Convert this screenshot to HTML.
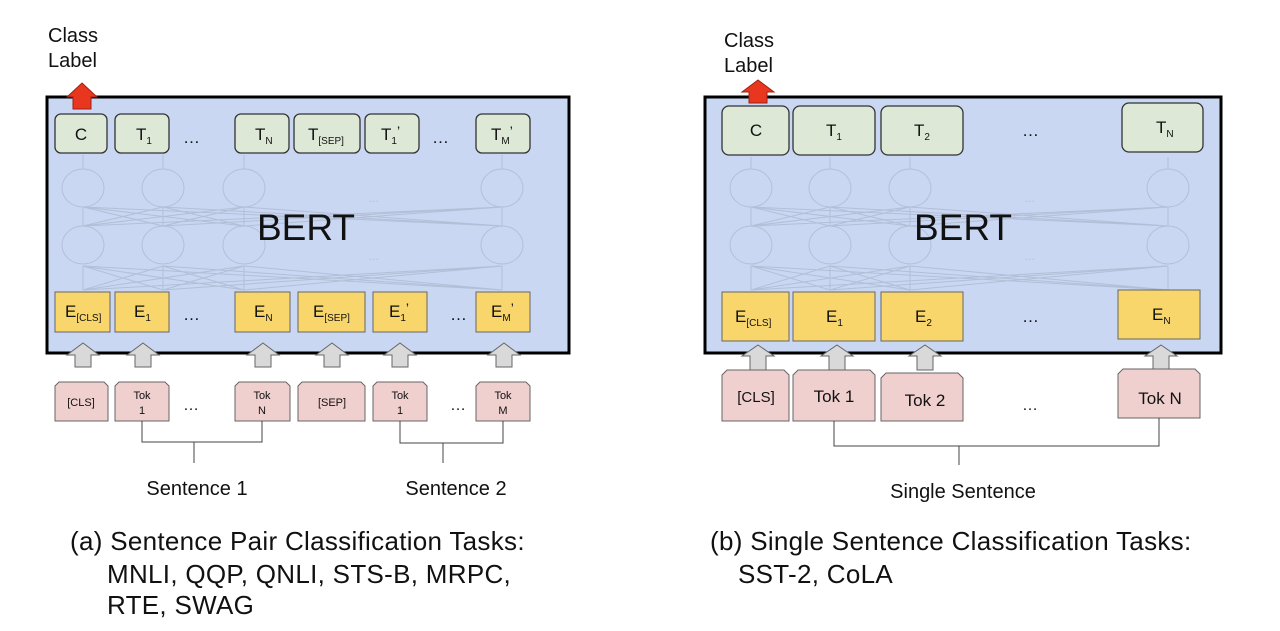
<!DOCTYPE html>
<html><head><meta charset="utf-8"><style>
html,body{margin:0;padding:0;background:#fff;}
svg{display:block;}
text{font-family:"Liberation Sans",Arial,sans-serif;fill:#111;}
</style></head><body>
<svg width="1280" height="631" viewBox="0 0 1280 631" xmlns="http://www.w3.org/2000/svg">
<!-- LEFT -->
<rect x="47" y="97" width="522" height="256" fill="#c9d7f3" stroke="#000" stroke-width="3"/>
<g stroke="#b3bfd6" stroke-width="1" fill="none">
<ellipse cx="83" cy="188" rx="21" ry="19"/><ellipse cx="163" cy="188" rx="21" ry="19"/><ellipse cx="244" cy="188" rx="21" ry="19"/><ellipse cx="502" cy="188" rx="21" ry="19"/>
<ellipse cx="83" cy="245" rx="21" ry="19"/><ellipse cx="163" cy="245" rx="21" ry="19"/><ellipse cx="244" cy="245" rx="21" ry="19"/><ellipse cx="502" cy="245" rx="21" ry="19"/>
<path d="M83 290L83 266M163 290L163 266M244 290L244 266M502 290L502 266M83 290L163 266M83 290L244 266M83 290L502 266M163 290L83 266M163 290L244 266M163 290L502 266M244 290L83 266M244 290L163 266M244 290L502 266M502 290L83 266M502 290L163 266M502 290L244 266"/>
<path d="M83 226L83 207M163 226L163 207M244 226L244 207M502 226L502 207M83 226L163 207M83 226L244 207M83 226L502 207M163 226L83 207M163 226L244 207M163 226L502 207M244 226L83 207M244 226L163 207M244 226L502 207M502 226L83 207M502 226L163 207M502 226L244 207"/>
<path d="M83 169L83 155M163 169L163 155M244 169L244 155M502 169L502 155"/>
</g>
<text x="369" y="202" font-size="12" style="fill:#b3bfd6">...</text>
<text x="369" y="260" font-size="12" style="fill:#b3bfd6">...</text>
<text x="306" y="240" font-size="37" text-anchor="middle">BERT</text>
<polygon points="82,83 97,97 91,97 91,109 73,109 73,97 67,97" fill="#e8361f" stroke="#a02010" stroke-width="1"/>
<text x="48" y="42" font-size="20">Class</text><text x="48" y="67" font-size="20">Label</text>
<g fill="#dde8d6" stroke="#333" stroke-width="1.3">
<rect x="55" y="114" width="52" height="39" rx="6"/><rect x="115" y="114" width="54" height="39" rx="6"/><rect x="235" y="114" width="54" height="39" rx="6"/><rect x="294" y="114" width="66" height="39" rx="6"/><rect x="365" y="114" width="54" height="39" rx="6"/><rect x="476" y="114" width="54" height="39" rx="6"/>
</g>
<g font-size="17">
<text x="81" y="140" text-anchor="middle">C</text>
<text x="136" y="140">T<tspan font-size="10" dy="4">1</tspan></text>
<text x="183" y="143">…</text>
<text x="255" y="140">T<tspan font-size="10" dy="4">N</tspan></text>
<text x="308" y="140">T<tspan font-size="10" dy="4">[SEP]</tspan></text>
<text x="381" y="140">T<tspan font-size="10" dy="4">1</tspan><tspan dy="-8" font-size="14">’</tspan></text>
<text x="432" y="143">…</text>
<text x="491" y="140">T<tspan font-size="10" dy="4">M</tspan><tspan dy="-8" font-size="14">’</tspan></text>
</g>
<g fill="#f8d66b" stroke="#666" stroke-width="1">
<rect x="55" y="292" width="55" height="40"/><rect x="115" y="292" width="54" height="40"/><rect x="235" y="292" width="55" height="40"/><rect x="298" y="292" width="67" height="40"/><rect x="373" y="292" width="54" height="40"/><rect x="476" y="292" width="54" height="40"/>
</g>
<g font-size="17">
<text x="65" y="317">E<tspan font-size="10" dy="4">[CLS]</tspan></text>
<text x="134" y="317">E<tspan font-size="10" dy="4">1</tspan></text>
<text x="183" y="320">…</text>
<text x="254" y="317">E<tspan font-size="10" dy="4">N</tspan></text>
<text x="313" y="317">E<tspan font-size="10" dy="4">[SEP]</tspan></text>
<text x="389" y="317">E<tspan font-size="10" dy="4">1</tspan><tspan dy="-8" font-size="14">’</tspan></text>
<text x="450" y="320">…</text>
<text x="491" y="317">E<tspan font-size="10" dy="4">M</tspan><tspan dy="-8" font-size="14">’</tspan></text>
</g>
<g fill="#d9d9d9" stroke="#666" stroke-width="1">
<polygon points="83,343 99,355 91,355 91,367 75,367 75,355 67,355"/>
<polygon points="143,343 159,355 151,355 151,367 135,367 135,355 127,355"/>
<polygon points="263,343 279,355 271,355 271,367 255,367 255,355 247,355"/>
<polygon points="332,343 348,355 340,355 340,367 324,367 324,355 316,355"/>
<polygon points="400,343 416,355 408,355 408,367 392,367 392,355 384,355"/>
<polygon points="504,343 520,355 512,355 512,367 496,367 496,355 488,355"/>
</g>
<g fill="#f0cfcf" stroke="#666" stroke-width="1">
<polygon points="59,382 104,382 108,386 108,421 55,421 55,386"/>
<polygon points="119,382 165,382 169,386 169,421 115,421 115,386"/>
<polygon points="239,382 286,382 290,386 290,421 235,421 235,386"/>
<polygon points="302,382 361,382 365,386 365,421 298,421 298,386"/>
<polygon points="377,382 423,382 427,386 427,421 373,421 373,386"/>
<polygon points="480,382 526,382 530,386 530,421 476,421 476,386"/>
</g>
<g font-size="11" text-anchor="middle">
<text x="81" y="406">[CLS]</text>
<text x="142" y="399">Tok</text><text x="142" y="414">1</text>
<text x="262" y="399">Tok</text><text x="262" y="414">N</text>
<text x="332" y="406">[SEP]</text>
<text x="400" y="399">Tok</text><text x="400" y="414">1</text>
<text x="503" y="399">Tok</text><text x="503" y="414">M</text>
</g>
<text x="183" y="410" font-size="16">…</text>
<text x="450" y="410" font-size="16">…</text>
<g stroke="#444" stroke-width="1" fill="none">
<path d="M142 421V442H262V421M194 442V463"/>
<path d="M400 421V443H503V421M443 443V463"/>
</g>
<text x="197" y="495" font-size="20" text-anchor="middle">Sentence 1</text>
<text x="456" y="495" font-size="20" text-anchor="middle">Sentence 2</text>
<g font-size="26" letter-spacing="0.3">
<text x="70" y="550">(a) Sentence Pair Classification Tasks:</text>
<text x="107" y="583">MNLI, QQP, QNLI, STS-B, MRPC,</text>
<text x="107" y="614">RTE, SWAG</text>
</g>

<!-- RIGHT -->
<rect x="705" y="97" width="516" height="256" fill="#c9d7f3" stroke="#000" stroke-width="3"/>
<g stroke="#b3bfd6" stroke-width="1" fill="none">
<ellipse cx="751" cy="188" rx="21" ry="19"/><ellipse cx="830" cy="188" rx="21" ry="19"/><ellipse cx="910" cy="188" rx="21" ry="19"/><ellipse cx="1168" cy="188" rx="21" ry="19"/>
<ellipse cx="751" cy="245" rx="21" ry="19"/><ellipse cx="830" cy="245" rx="21" ry="19"/><ellipse cx="910" cy="245" rx="21" ry="19"/><ellipse cx="1168" cy="245" rx="21" ry="19"/>
<path d="M751 290L751 266M830 290L830 266M910 290L910 266M1168 290L1168 266M751 290L830 266M751 290L910 266M751 290L1168 266M830 290L751 266M830 290L910 266M830 290L1168 266M910 290L751 266M910 290L830 266M910 290L1168 266M1168 290L751 266M1168 290L830 266M1168 290L910 266"/>
<path d="M751 226L751 207M830 226L830 207M910 226L910 207M1168 226L1168 207M751 226L830 207M751 226L910 207M751 226L1168 207M830 226L751 207M830 226L910 207M830 226L1168 207M910 226L751 207M910 226L830 207M910 226L1168 207M1168 226L751 207M1168 226L830 207M1168 226L910 207"/>
<path d="M751 169L751 157M830 169L830 157M910 169L910 157M1168 169L1168 157"/>
</g>
<text x="1025" y="202" font-size="12" style="fill:#b3bfd6">...</text>
<text x="1025" y="260" font-size="12" style="fill:#b3bfd6">...</text>
<text x="963" y="240" font-size="37" text-anchor="middle">BERT</text>
<polygon points="758,80 774,92 767,92 767,103 749,103 749,92 742,92" fill="#e8361f" stroke="#a02010" stroke-width="1"/>
<text x="724" y="47" font-size="20">Class</text><text x="724" y="72" font-size="20">Label</text>
<g fill="#dde8d6" stroke="#333" stroke-width="1.3">
<rect x="722" y="106" width="67" height="49" rx="7"/><rect x="793" y="106" width="82" height="49" rx="7"/><rect x="881" y="106" width="82" height="49" rx="7"/><rect x="1122" y="103" width="81" height="49" rx="7"/>
</g>
<g font-size="17">
<text x="756" y="136" text-anchor="middle">C</text>
<text x="826" y="136">T<tspan font-size="10" dy="4">1</tspan></text>
<text x="914" y="136">T<tspan font-size="10" dy="4">2</tspan></text>
<text x="1022" y="136">…</text>
<text x="1156" y="133">T<tspan font-size="10" dy="4">N</tspan></text>
</g>
<g fill="#f8d66b" stroke="#666" stroke-width="1">
<rect x="722" y="292" width="67" height="49"/><rect x="793" y="292" width="82" height="49"/><rect x="881" y="292" width="82" height="49"/><rect x="1118" y="290" width="82" height="49"/>
</g>
<g font-size="17">
<text x="735" y="322">E<tspan font-size="10" dy="4">[CLS]</tspan></text>
<text x="826" y="322">E<tspan font-size="10" dy="4">1</tspan></text>
<text x="915" y="322">E<tspan font-size="10" dy="4">2</tspan></text>
<text x="1022" y="322">…</text>
<text x="1152" y="320">E<tspan font-size="10" dy="4">N</tspan></text>
</g>
<g fill="#d9d9d9" stroke="#666" stroke-width="1">
<polygon points="758,345 774,356 766,356 766,370 750,370 750,356 742,356"/>
<polygon points="837,345 853,356 845,356 845,370 829,370 829,356 821,356"/>
<polygon points="925,345 941,356 933,356 933,370 917,370 917,356 909,356"/>
<polygon points="1161,345 1177,356 1169,356 1169,370 1153,370 1153,356 1145,356"/>
</g>
<g fill="#f0cfcf" stroke="#666" stroke-width="1">
<polygon points="727,370 784,370 789,375 789,421 722,421 722,375"/>
<polygon points="798,370 870,370 875,375 875,421 793,421 793,375"/>
<polygon points="886,373 958,373 963,378 963,421 881,421 881,378"/>
<polygon points="1123,369 1195,369 1200,374 1200,418 1118,418 1118,374"/>
</g>
<g font-size="17" text-anchor="middle">
<text x="756" y="402" font-size="15">[CLS]</text>
<text x="834" y="402">Tok 1</text>
<text x="925" y="406">Tok 2</text>
<text x="1160" y="404">Tok N</text>
</g>
<text x="1022" y="410" font-size="16">…</text>
<g stroke="#444" stroke-width="1" fill="none">
<path d="M834 421V446H1159V418M959 446V465"/>
</g>
<text x="963" y="498" font-size="20" text-anchor="middle">Single Sentence</text>
<g font-size="26" letter-spacing="0.3">
<text x="710" y="550">(b) Single Sentence Classification Tasks:</text>
<text x="738" y="583">SST-2, CoLA</text>
</g>
</svg>
</body></html>
